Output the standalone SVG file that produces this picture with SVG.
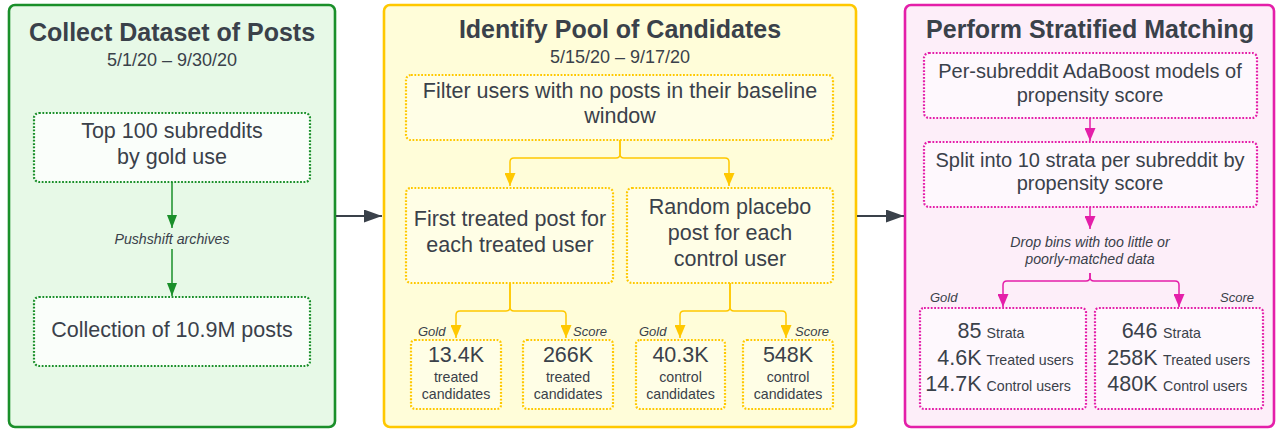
<svg xmlns="http://www.w3.org/2000/svg" width="1276" height="429" viewBox="0 0 1276 429">
<style>
text{font-family:"Liberation Sans",Arial,sans-serif;fill:#3a414a}
.title{font-size:25px;font-weight:bold;text-anchor:middle}
.sub{font-size:18px;text-anchor:middle}
.body{font-size:21.5px;text-anchor:middle}
.bodym{font-size:20px;text-anchor:middle}
.lab{font-size:14.2px;font-style:italic;text-anchor:middle}
.tag{font-size:13px;font-style:italic}
.num{font-size:21.5px}
.small{font-size:14.2px}
.c{text-anchor:middle}
.e{text-anchor:end}
.dg{fill:#fafefa;stroke:#1a8f2a;stroke-width:2.2;stroke-dasharray:1.8 1.6}
.dy{fill:#fffee6;stroke:#ffc800;stroke-width:2.2;stroke-dasharray:1.8 1.6}
.dm{fill:#fef8fd;stroke:#e41fa9;stroke-width:2.2;stroke-dasharray:1.8 1.6}
.cg{fill:none;stroke:#1a8f2a;stroke-width:1.5}
.cy{fill:none;stroke:#ffc800;stroke-width:1.5}
.cm{fill:none;stroke:#e41fa9;stroke-width:1.5}
.cd{fill:none;stroke:#3a414a;stroke-width:2.2}
</style>
<defs>
<marker id="ag" markerUnits="userSpaceOnUse" markerWidth="13" markerHeight="10" refX="13" refY="5" orient="auto"><path d="M0,0 L13,5 L0,10 z" fill="#1a8f2a"/></marker>
<marker id="ay" markerUnits="userSpaceOnUse" markerWidth="13" markerHeight="11" refX="13" refY="5.5" orient="auto"><path d="M0,0 L13,5.5 L0,11 z" fill="#ffc800"/></marker>
<marker id="am" markerUnits="userSpaceOnUse" markerWidth="13" markerHeight="11" refX="13" refY="5.5" orient="auto"><path d="M0,0 L13,5.5 L0,11 z" fill="#e41fa9"/></marker>
<marker id="ad" markerUnits="userSpaceOnUse" markerWidth="18" markerHeight="13" refX="18" refY="6.5" orient="auto"><path d="M0,0 L18,6.5 L0,13 z" fill="#3a414a"/></marker>
</defs>

<g id="collect">
<rect x="9" y="5" width="326" height="422" rx="6" fill="#e7f9e7" stroke="#1a8f2a" stroke-width="2.6"/>
<text class="title" x="172" y="41">Collect Dataset of Posts</text>
<text class="sub" x="172" y="66">5/1/20 – 9/30/20</text>
</g>
<g id="top100">
<rect class="dg" x="34" y="113" width="276" height="69" rx="5"/>
<text class="body" x="172" y="138">Top 100 subreddits</text>
<text class="body" x="172" y="164">by gold use</text>
</g>
<g id="collection">
<rect class="dg" x="34" y="297" width="276" height="69" rx="5"/>
<text class="body" x="172" y="337">Collection of 10.9M posts</text>
</g>

<g id="identify">
<rect x="384" y="5" width="472" height="422" rx="6" fill="#fffdd9" stroke="#ffc800" stroke-width="2.6"/>
<text class="title" x="620" y="38">Identify Pool of Candidates</text>
<text class="sub" x="620" y="63">5/15/20 – 9/17/20</text>
</g>
<g id="filter">
<rect class="dy" x="406" y="75" width="427" height="65" rx="5"/>
<text class="body" x="620" y="98">Filter users with no posts in their baseline</text>
<text class="body" x="620" y="123">window</text>
</g>
<g id="firsttreated">
<rect class="dy" x="406" y="188" width="207" height="95" rx="5"/>
<text class="body" x="510" y="226">First treated post for</text>
<text class="body" x="510" y="252">each treated user</text>
</g>
<g id="placebo">
<rect class="dy" x="627" y="188" width="206" height="95" rx="5"/>
<text class="body" x="730" y="214">Random placebo</text>
<text class="body" x="730" y="240">post for each</text>
<text class="body" x="730" y="266">control user</text>
</g>
<g id="cand1">
<rect class="dy" x="411" y="340" width="90" height="69" rx="4"/>
<text class="num c" x="456" y="362">13.4K</text>
<text class="small c" x="456" y="382">treated</text>
<text class="small c" x="456" y="399">candidates</text>
</g>
<g id="cand2">
<rect class="dy" x="523" y="340" width="90" height="69" rx="4"/>
<text class="num c" x="568" y="362">266K</text>
<text class="small c" x="568" y="382">treated</text>
<text class="small c" x="568" y="399">candidates</text>
</g>
<g id="cand3">
<rect class="dy" x="636" y="340" width="89" height="69" rx="4"/>
<text class="num c" x="680.5" y="362">40.3K</text>
<text class="small c" x="680.5" y="382">control</text>
<text class="small c" x="680.5" y="399">candidates</text>
</g>
<g id="cand4">
<rect class="dy" x="743" y="340" width="90" height="69" rx="4"/>
<text class="num c" x="788" y="362">548K</text>
<text class="small c" x="788" y="382">control</text>
<text class="small c" x="788" y="399">candidates</text>
</g>

<g id="matching">
<rect x="905" y="5" width="369" height="422" rx="6" fill="#fdeef9" stroke="#e41fa9" stroke-width="2.6"/>
<text class="title" x="1090" y="38">Perform Stratified Matching</text>
</g>
<g id="adaboost">
<rect class="dm" x="924" y="53" width="333" height="65" rx="5"/>
<text class="bodym" x="1090" y="78">Per-subreddit AdaBoost models of</text>
<text class="bodym" x="1090" y="102">propensity score</text>
</g>
<g id="split">
<rect class="dm" x="924" y="142" width="333" height="65" rx="5"/>
<text class="bodym" x="1090" y="167">Split into 10 strata per subreddit by</text>
<text class="bodym" x="1090" y="190">propensity score</text>
</g>
<g id="goldres">
<rect class="dm" x="920" y="308" width="166" height="101" rx="4"/>
<text class="num e" x="981.5" y="338">85</text>
<text class="small" x="986.5" y="338">Strata</text>
<text class="num e" x="981.5" y="365">4.6K</text>
<text class="small" x="986.5" y="365">Treated users</text>
<text class="num e" x="981.5" y="391">14.7K</text>
<text class="small" x="986.5" y="391">Control users</text>
</g>
<g id="scoreres">
<rect class="dm" x="1095" y="308" width="168" height="101" rx="4"/>
<text class="num e" x="1157.5" y="338">646</text>
<text class="small" x="1163" y="338">Strata</text>
<text class="num e" x="1157.5" y="365">258K</text>
<text class="small" x="1163" y="365">Treated users</text>
<text class="num e" x="1157.5" y="391">480K</text>
<text class="small" x="1163" y="391">Control users</text>
</g>

<g id="connectors">
<path class="cd" d="M336,216 H382" marker-end="url(#ad)"/>
<path class="cd" d="M857,216 H904" marker-end="url(#ad)"/>

<path class="cg" d="M172,182 V228" marker-end="url(#ag)"/>
<text class="lab" x="172" y="244">Pushshift archives</text>
<path class="cg" d="M172,249 V296" marker-end="url(#ag)"/>

<path class="cy" d="M620,140 V154 Q620,158 616,158 H514 Q510,158 510,162 V186" marker-end="url(#ay)"/>
<path class="cy" d="M620,140 V154 Q620,158 624,158 H725 Q729,158 729,162 V186" marker-end="url(#ay)"/>
<path class="cy" d="M510,283 V307 Q510,311 506,311 H460 Q456,311 456,315 V338" marker-end="url(#ay)"/>
<path class="cy" d="M510,283 V307 Q510,311 514,311 H562 Q566,311 566,315 V338" marker-end="url(#ay)"/>
<path class="cy" d="M730,283 V307 Q730,311 726,311 H684 Q680,311 680,315 V338" marker-end="url(#ay)"/>
<path class="cy" d="M730,283 V307 Q730,311 734,311 H782 Q786,311 786,315 V338" marker-end="url(#ay)"/>
<text class="tag" x="418" y="336">Gold</text>
<text class="tag e" x="607" y="336">Score</text>
<text class="tag" x="639" y="336">Gold</text>
<text class="tag e" x="829" y="336">Score</text>

<path class="cm" d="M1090,118 V141" marker-end="url(#am)"/>
<path class="cm" d="M1090,207 V229" marker-end="url(#am)"/>
<text class="lab" x="1090" y="247">Drop bins with too little or</text>
<text class="lab" x="1090" y="264">poorly-matched data</text>
<path class="cm" d="M1090,273 V277 Q1090,281 1086,281 H1007 Q1003,281 1003,285 V307" marker-end="url(#am)"/>
<path class="cm" d="M1090,273 V277 Q1090,281 1094,281 H1175 Q1179,281 1179,285 V307" marker-end="url(#am)"/>
<text class="tag" x="930" y="302">Gold</text>
<text class="tag e" x="1254" y="302">Score</text>
</g>
</svg>
